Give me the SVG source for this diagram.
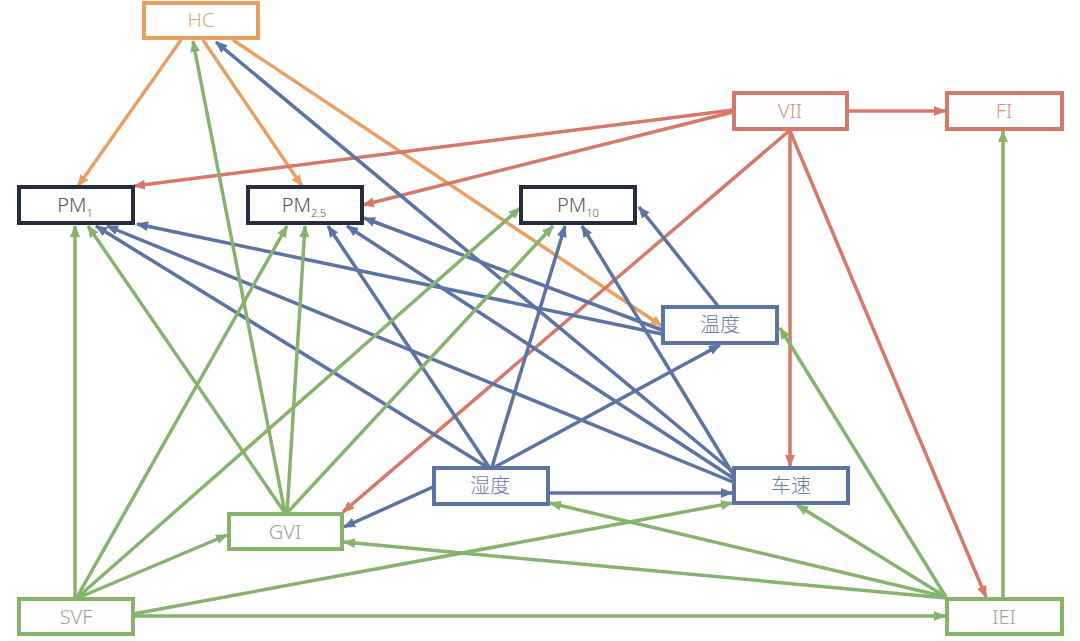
<svg xmlns="http://www.w3.org/2000/svg" width="1080" height="641" viewBox="0 0 1080 641">
<style>
.e{stroke-width:3.5;fill:none}
.o{stroke:#E8A062}.r{stroke:#D6786A}.b{stroke:#5B74A4}.g{stroke:#86B46E}
.n{fill:#fff;stroke-width:4}
.t{font-family:"Noto Sans","Noto Sans CJK SC",sans-serif;font-size:20px;text-anchor:middle;font-weight:300}
</style>
<defs>
<marker id="ao" markerUnits="userSpaceOnUse" markerWidth="12" markerHeight="10" refX="11" refY="5" orient="auto"><path d="M0,0L12,5L0,10z" fill="#E8A062"/></marker>
<marker id="ar" markerUnits="userSpaceOnUse" markerWidth="12" markerHeight="10" refX="11" refY="5" orient="auto"><path d="M0,0L12,5L0,10z" fill="#D6786A"/></marker>
<marker id="ab" markerUnits="userSpaceOnUse" markerWidth="12" markerHeight="10" refX="11" refY="5" orient="auto"><path d="M0,0L12,5L0,10z" fill="#5B74A4"/></marker>
<marker id="ag" markerUnits="userSpaceOnUse" markerWidth="12" markerHeight="10" refX="11" refY="5" orient="auto"><path d="M0,0L12,5L0,10z" fill="#86B46E"/></marker>
</defs>
<rect width="1080" height="641" fill="#fff"/>
<g id="connectors">
<g class="e o" marker-end="url(#ao)">
<line x1="181" y1="40" x2="78" y2="186"/>
<line x1="203" y1="40" x2="302" y2="186"/>
<line x1="233" y1="40" x2="662" y2="326"/>
</g>
<g class="e r" marker-end="url(#ar)">
<line x1="733" y1="110" x2="134" y2="186"/>
<line x1="733" y1="112" x2="363" y2="205"/>
<line x1="848" y1="111" x2="945" y2="111"/>
<line x1="789" y1="131" x2="343" y2="512"/>
<line x1="790" y1="131" x2="790" y2="466"/>
<line x1="790" y1="131" x2="986" y2="597"/>
</g>
<g class="e b" marker-end="url(#ab)">
<line x1="733" y1="472" x2="216" y2="42"/>
<line x1="733" y1="482" x2="107" y2="226"/>
<line x1="733" y1="478" x2="347" y2="226"/>
<line x1="733" y1="474" x2="582" y2="226"/>
<line x1="662" y1="334" x2="137" y2="224"/>
<line x1="662" y1="330" x2="364" y2="218"/>
<line x1="718" y1="306" x2="639" y2="207"/>
<line x1="487" y1="467" x2="96" y2="226"/>
<line x1="489" y1="467" x2="328" y2="226"/>
<line x1="492" y1="467" x2="565" y2="226"/>
<line x1="495" y1="467" x2="720" y2="345"/>
<line x1="548" y1="493" x2="732" y2="493"/>
<line x1="433" y1="487" x2="344" y2="527"/>
</g>
<g class="e g" marker-end="url(#ag)">
<line x1="75" y1="597" x2="75" y2="226"/>
<line x1="77" y1="597" x2="287" y2="226"/>
<line x1="78" y1="597" x2="520" y2="208"/>
<line x1="80" y1="597" x2="227" y2="535"/>
<line x1="133" y1="614" x2="732" y2="503"/>
<line x1="133" y1="616" x2="945" y2="616"/>
<line x1="285" y1="513" x2="193" y2="41"/>
<line x1="285" y1="513" x2="88" y2="226"/>
<line x1="287" y1="513" x2="305" y2="226"/>
<line x1="287" y1="513" x2="553" y2="226"/>
<line x1="946" y1="598" x2="344" y2="542"/>
<line x1="946" y1="597" x2="550" y2="503"/>
<line x1="946" y1="597" x2="797" y2="505"/>
<line x1="946" y1="597" x2="780" y2="328"/>
<line x1="1003" y1="598" x2="1003" y2="131"/>
</g>
</g>
<g id="HC"><rect class="n" x="144" y="3" width="114" height="35" stroke="#E8A062"/><text class="t" x="201" y="27" fill="#E3A77C">HC</text></g>
<g id="PM1"><rect class="n" x="19" y="187" width="114" height="36" stroke="#262E3C"/><text class="t" x="75" y="212" fill="#555">PM<tspan font-size="11" dy="5">1</tspan></text></g>
<g id="PM25"><rect class="n" x="248" y="187" width="114" height="36" stroke="#262E3C"/><text class="t" x="304" y="212" fill="#555">PM<tspan font-size="11" dy="5">2.5</tspan></text></g>
<g id="PM10"><rect class="n" x="521" y="187" width="114" height="36" stroke="#262E3C"/><text class="t" x="578" y="212" fill="#555">PM<tspan font-size="11" dy="5">10</tspan></text></g>
<g id="VII"><rect class="n" x="734" y="93" width="113" height="36" stroke="#D6786A"/><text class="t" x="790" y="118" fill="#D99088">VII</text></g>
<g id="FI"><rect class="n" x="947" y="93" width="115" height="36" stroke="#D6786A"/><text class="t" x="1004" y="118" fill="#D99088">FI</text></g>
<g id="wendu"><rect class="n" x="663" y="307" width="114" height="36" stroke="#5B74A4"/><text class="t" x="720" y="332" fill="#6A7FA8">温度</text></g>
<g id="shidu"><rect class="n" x="434" y="468" width="114" height="36" stroke="#5B74A4"/><text class="t" x="490" y="493" fill="#6A7FA8">湿度</text></g>
<g id="chesu"><rect class="n" x="734" y="468" width="114" height="35" stroke="#5B74A4"/><text class="t" x="791" y="493" fill="#6A7FA8">车速</text></g>
<g id="GVI"><rect class="n" x="229" y="514" width="113" height="35" stroke="#86B46E"/><text class="t" x="285" y="539" fill="#98A894">GVI</text></g>
<g id="SVF"><rect class="n" x="19" y="599" width="114" height="35" stroke="#86B46E"/><text class="t" x="76" y="624" fill="#98A894">SVF</text></g>
<g id="IEI"><rect class="n" x="947" y="599" width="115" height="35" stroke="#86B46E"/><text class="t" x="1004" y="624" fill="#98A894">IEI</text></g>
</svg>
